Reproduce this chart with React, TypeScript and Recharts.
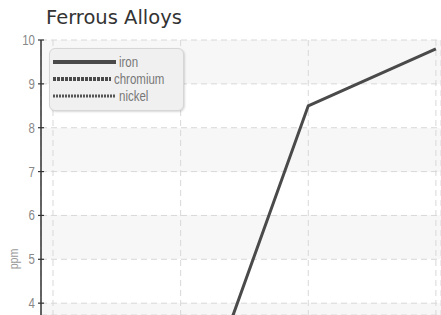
import React from 'react';
import { LineChart, Line, XAxis, YAxis, CartesianGrid, Legend, Label } from 'recharts';

// x positions of the samples
const categories = [1, 2, 3, 4];
// ppm readings (only the upper part of the chart is shown)
const iron = [2.6, 0.4, 8.5, 9.8];
const chromium = [1.8, 2.4, 3.1, 2.9];
const nickel = [0.9, 1.5, 2.2, 1.6];
const yTicks = [4, 5, 6, 7, 8, 9, 10];
const seriesOrder = ['iron', 'chromium', 'nickel'];

const data = categories.map((c, i) => ({
    x: c,
    iron: iron[i],
    chromium: chromium[i],
    nickel: nickel[i],
}));

const seriesStyle: Record<string, { color: string; width: number; dash?: string }> = {
    iron: { color: '#4a4a4a', width: 4 },
    chromium: { color: '#4a4a4a', width: 4, dash: '3 1' },
    nickel: { color: '#555555', width: 3, dash: '2 1' },
};

// no condensed face installed, so squeeze Liberation Sans horizontally
const labelFont = '"Liberation Sans", Arial, sans-serif';
const squeeze = 0.82;

const YTick = (props: any) => {
    const { x, y, payload } = props;
    const axisX = x + 6;
    return (
        <g>
            <line x1={axisX - 3} x2={axisX + 3} y1={y} y2={y} stroke="#333" strokeWidth={1.2} />
            <text
                transform={`translate(${x},${y + 5}) scale(${squeeze},1)`}
                textAnchor="end"
                fill="#888"
                fontSize={14}
                fontFamily={labelFont}
            >
                {payload.value}
            </text>
        </g>
    );
};

const PpmLabel = (props: any) => {
    const { viewBox } = props;
    return (
        <text
            transform={`translate(${viewBox.x + 18},${viewBox.y + 219}) rotate(-90) scale(${squeeze},1)`}
            textAnchor="middle"
            fill="#999"
            fontSize={13}
            fontFamily={labelFont}
        >
            ppm
        </text>
    );
};

const renderLegend = (props: any) => {
    const payload = [...(props.payload || [])].sort(
        (a: any, b: any) => seriesOrder.indexOf(a.dataKey) - seriesOrder.indexOf(b.dataKey)
    );
    return (
        <div
            style={{
                background: '#f0f0f0',
                border: '1px solid #d6d6d6',
                borderRadius: 6,
                boxShadow: '1px 1px 2px rgba(0,0,0,0.15)',
                padding: '4px 8px 6px 3px',
                width: 122,
            }}
        >
            {payload.map((entry: any) => {
                const s = seriesStyle[entry.dataKey];
                return (
                    <div key={entry.dataKey} style={{ display: 'flex', alignItems: 'center', height: 17 }}>
                        <svg width={63} height={8} style={{ marginRight: 3 }}>
                            <line
                                x1={0}
                                x2={63}
                                y1={4}
                                y2={4}
                                stroke={s.color}
                                strokeWidth={s.width}
                                strokeDasharray={s.dash}
                            />
                        </svg>
                        <span
                            style={{
                                display: 'inline-block',
                                color: '#777',
                                fontSize: 14,
                                fontFamily: labelFont,
                                lineHeight: '14px',
                                transform: `scaleX(${squeeze})`,
                                transformOrigin: 'left center',
                            }}
                        >
                            {entry.value}
                        </span>
                    </div>
                );
            })}
        </div>
    );
};

const App: React.FC = () => {
    return (
        <div style={{ position: 'relative', width: 441, height: 315, background: '#fff', overflow: 'hidden' }}>
            <style>{'body{margin:0}'}</style>
            <div
                style={{
                    position: 'absolute',
                    left: 46,
                    top: 7,
                    fontSize: 19.5,
                    color: '#333',
                    fontFamily: '"DejaVu Sans", sans-serif',
                    lineHeight: '22px',
                }}
            >
                Ferrous Alloys
            </div>
            <LineChart width={441} height={315} data={data} margin={{ top: 40, right: 0, bottom: 0, left: 0 }}>
                <CartesianGrid
                    stroke="#d8d8d8"
                    strokeDasharray="6 4"
                    horizontalFill={['#f7f7f7', '#ffffff']}
                />
                <XAxis
                    type="number"
                    dataKey="x"
                    domain={[0.906, 4.04]}
                    ticks={categories}
                    allowDataOverflow
                    hide
                />
                <YAxis
                    type="number"
                    domain={[3.73, 10]}
                    ticks={yTicks}
                    allowDataOverflow
                    width={41}
                    axisLine={{ stroke: '#333', strokeWidth: 1.5 }}
                    tickLine={false}
                    tickSize={5}
                    tickMargin={1}
                    tick={<YTick />}
                >
                    <Label content={<PpmLabel />} />
                </YAxis>
                <Legend
                    layout="vertical"
                    align="center"
                    verticalAlign="middle"
                    content={renderLegend}
                    wrapperStyle={{ position: 'absolute', left: 49, top: 48, width: 'auto' }}
                />
                <Line
                    type="linear"
                    dataKey="iron"
                    name="iron"
                    stroke={seriesStyle.iron.color}
                    strokeWidth={3}
                    dot={false}
                    isAnimationActive={false}
                />
                <Line
                    type="linear"
                    dataKey="chromium"
                    name="chromium"
                    stroke={seriesStyle.chromium.color}
                    strokeWidth={3}
                    strokeDasharray="3 1"
                    dot={false}
                    isAnimationActive={false}
                />
                <Line
                    type="linear"
                    dataKey="nickel"
                    name="nickel"
                    stroke={seriesStyle.nickel.color}
                    strokeWidth={2.5}
                    strokeDasharray="2 1"
                    dot={false}
                    isAnimationActive={false}
                />
            </LineChart>
        </div>
    );
};

export default App;
